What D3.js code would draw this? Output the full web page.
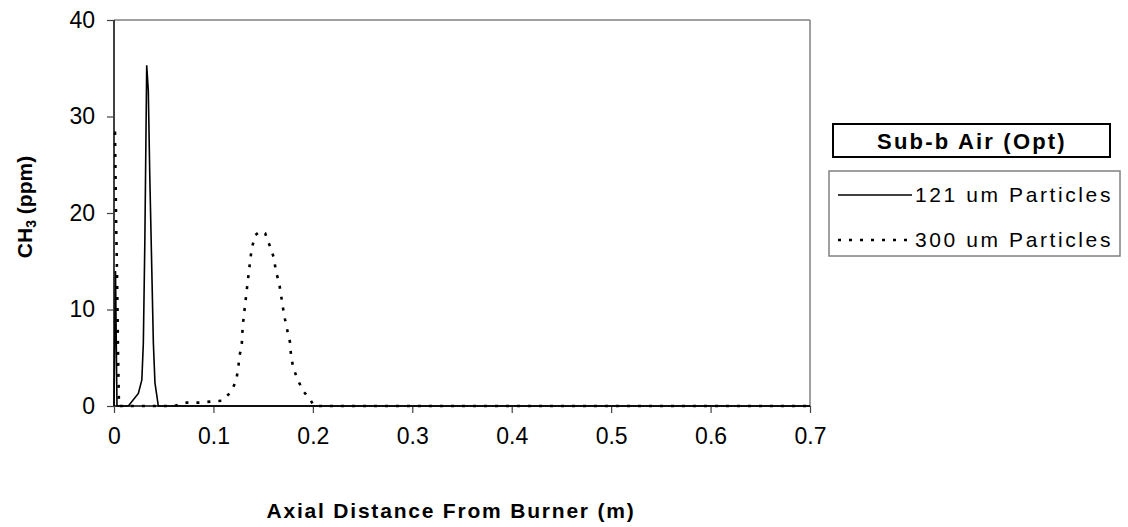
<!DOCTYPE html>
<html><head><meta charset="utf-8">
<script src="https://cdn.jsdelivr.net/npm/d3@7"></script>
<style>
body{margin:0;background:#fff;}
text{font-family:"Liberation Sans",Arial,sans-serif;fill:#000;}
</style></head>
<body>
<svg id="chart" width="1128" height="527"></svg>
<script>
// ---- data ----
const seriesNames = ["121 um Particles", "300 um Particles"];
const legendTitle = "Sub-b Air (Opt)";
const xTicks = [0, 0.1, 0.2, 0.3, 0.4, 0.5, 0.6, 0.7];
const yTicks = [0, 10, 20, 30, 40];
const xLabel = "Axial Distance From Burner (m)";

const x121 = [0, 0.0015, 0.003, 0.0144, 0.0245, 0.028, 0.0295, 0.031, 0.0329, 0.0345, 0.036, 0.0396, 0.0412, 0.0446, 0.06, 0.1, 0.2, 0.3, 0.4, 0.5, 0.6, 0.7];
const y121 = [0, 14, 0, 0, 1.3, 2.7, 6.5, 16.9, 35.3, 32.7, 23.8, 6.5, 2.4, 0, 0, 0, 0, 0, 0, 0, 0, 0];

const x300 = [0, 0.001, 0.002, 0.003, 0.004, 0.005, 0.06, 0.073, 0.085, 0.0966, 0.109, 0.118, 0.1227, 0.125, 0.126, 0.1285, 0.129, 0.13, 0.1335, 0.137, 0.1385, 0.142, 0.147, 0.152, 0.157, 0.161, 0.1627, 0.166, 0.168, 0.1697, 0.172, 0.1744, 0.177, 0.178, 0.18, 0.184, 0.19, 0.198, 0.201, 0.3, 0.4, 0.5, 0.6, 0.7];
const y300 = [28.3, 28.3, 20, 14, 6, 0, 0, 0.35, 0.35, 0.45, 0.55, 1.5, 2.6, 3.9, 5.1, 6.3, 7.5, 8.8, 12, 15.1, 16.3, 17.7, 18.1, 17.9, 16.5, 15.3, 14, 12.8, 11.5, 10.3, 9.0, 7.8, 6.6, 5.3, 4.1, 2.9, 1.6, 0.55, 0, 0, 0, 0, 0, 0];

// ---- layout ----
const svg = d3.select("#chart");
const L = 114, R = 810, T = 20, B = 406;
const x = d3.scaleLinear().domain([0, 0.7]).range([L, R]);
const y = d3.scaleLinear().domain([0, 40]).range([B, T]);

// plot frame (top/right grey)
svg.append("line").attr("x1", L).attr("x2", R).attr("y1", T).attr("y2", T).attr("stroke", "#808080").attr("stroke-width", 1.5);
svg.append("line").attr("x1", R).attr("x2", R).attr("y1", T).attr("y2", B).attr("stroke", "#808080").attr("stroke-width", 1.5);

// axes
const xAxis = d3.axisBottom(x).tickValues(xTicks).tickSize(7).tickPadding(15)
  .tickFormat(d => d === 0 ? "0" : d3.format(".1f")(d));
const gx = svg.append("g").attr("transform", `translate(0,${B})`).call(xAxis);
const yAxis = d3.axisLeft(y).tickValues(yTicks).tickSize(7).tickPadding(12);
const gy = svg.append("g").attr("transform", `translate(${L},0)`).call(yAxis);
[gx, gy].forEach(g => {
  g.select(".domain").attr("stroke", "#000").attr("stroke-width", 1.5);
  g.selectAll(".tick line").attr("stroke", "#404040").attr("stroke-width", 1.2);
  g.selectAll(".tick text").attr("font-size", 23).attr("font-family", "Liberation Sans, Arial, sans-serif").attr("fill", "#000");
});
gy.select(".domain").attr("d", `M0,${B}V${T}`);
gx.select(".domain").attr("d", `M${L},0H${R}`);

// lines
const line = d3.line().x(d => x(d[0])).y(d => y(d[1]));
const d121 = x121.map((v, i) => [v, y121[i]]);
const d300 = x300.map((v, i) => [v, y300[i]]);
svg.append("path").datum(d300).attr("d", line).attr("fill", "none")
  .attr("stroke", "#000").attr("stroke-width", 2.6).attr("stroke-dasharray", "3,8");
svg.append("path").datum(d121).attr("d", line).attr("fill", "none")
  .attr("stroke", "#000").attr("stroke-width", 1.6);

// axis titles
svg.append("text").attr("x", 451).attr("y", 518).attr("text-anchor", "middle")
  .attr("font-size", 21).attr("font-weight", "bold").attr("letter-spacing", 1.8).text(xLabel);
const yt = svg.append("text").attr("transform", "translate(32,207) rotate(-90)").attr("text-anchor", "middle")
  .attr("font-size", 21).attr("font-weight", "bold");
yt.append("tspan").text("CH");
yt.append("tspan").attr("font-size", 14).attr("dy", 4).text("3");
yt.append("tspan").attr("dy", -4).text(" (ppm)");

// legend title box
svg.append("rect").attr("x", 833).attr("y", 124).attr("width", 277).attr("height", 33)
  .attr("fill", "#fff").attr("stroke", "#000").attr("stroke-width", 2);
svg.append("text").attr("x", 972).attr("y", 149).attr("text-anchor", "middle")
  .attr("font-size", 22).attr("font-weight", "bold").attr("letter-spacing", 2.2).text(legendTitle);

// legend box
svg.append("rect").attr("x", 829).attr("y", 171).attr("width", 291).attr("height", 85)
  .attr("fill", "#fff").attr("stroke", "#808080").attr("stroke-width", 1.5);
const legY = [195, 240];
const legDash = [null, "3,8"];
const legW = [1.6, 2.6];
seriesNames.forEach((n, i) => {
  const ln = svg.append("line").attr("x1", 838).attr("x2", 912).attr("y1", legY[i]).attr("y2", legY[i])
    .attr("stroke", "#000").attr("stroke-width", legW[i]);
  if (legDash[i]) ln.attr("stroke-dasharray", legDash[i]);
  svg.append("text").attr("x", 915).attr("y", legY[i] + 7).attr("font-size", 21)
    .attr("letter-spacing", 2.6).text(n);
});
</script>
</body></html>
